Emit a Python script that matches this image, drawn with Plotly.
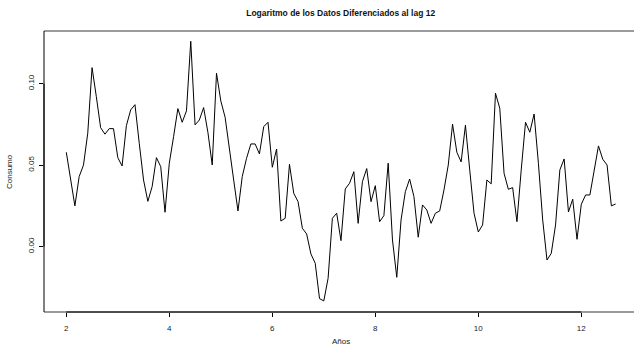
import numpy as np
import plotly.graph_objects as go

# Seasonally differenced (lag 12) log consumption, monthly from year 2
start_year = 2.0
freq = 12
consumo = [
    0.0579, 0.0410, 0.0250, 0.0430, 0.0500, 0.0696, 0.1098, 0.0920, 0.0730, 0.0690,
    0.0724, 0.0724, 0.0546, 0.0495, 0.0742, 0.0839, 0.0871, 0.0634, 0.0409, 0.0278,
    0.0368, 0.0546, 0.0491, 0.0211, 0.0512, 0.0675, 0.0847, 0.0763, 0.0833, 0.1260,
    0.0747, 0.0777, 0.0853, 0.0700, 0.0501, 0.1064, 0.0894, 0.0794, 0.0614, 0.0409,
    0.0219, 0.0430, 0.0542, 0.0630, 0.0630, 0.0569, 0.0736, 0.0763, 0.0487, 0.0599,
    0.0157, 0.0174, 0.0505, 0.0327, 0.0276, 0.0113, 0.0078, -0.0045, -0.0102, -0.0319,
    -0.0333, -0.0194, 0.0174, 0.0205, 0.0037, 0.0354, 0.0389, 0.0460, 0.0143, 0.0399,
    0.0479, 0.0276, 0.0374, 0.0153, 0.0190, 0.0512, 0.0041, -0.0188, 0.0164, 0.0337,
    0.0415, 0.0307, 0.0058, 0.0256, 0.0225, 0.0143, 0.0205, 0.0219, 0.0348, 0.0501,
    0.0751, 0.0579, 0.0520, 0.0745, 0.0471, 0.0205, 0.0090, 0.0133, 0.0409, 0.0385,
    0.0941, 0.0849, 0.0450, 0.0352, 0.0362, 0.0153, 0.0471, 0.0763, 0.0702, 0.0814,
    0.0512, 0.0164, -0.0082, -0.0041, 0.0133, 0.0471, 0.0538, 0.0213, 0.0291, 0.0045,
    0.0260, 0.0317, 0.0317, 0.0466, 0.0618, 0.0536, 0.0501, 0.0250, 0.0262,
]
anios = start_year + np.arange(len(consumo)) / freq

x_ticks = [2, 4, 6, 8, 10, 12]
y_ticks = [0.00, 0.05, 0.10]
y_tick_labels = ["0.00", "0.05", "0.10"]

FONT = "Liberation Sans, Arial, Helvetica, sans-serif"

fig = go.Figure()
fig.add_trace(go.Scatter(
    x=anios, y=consumo, mode="lines",
    line=dict(color="black", width=1),
    hoverinfo="skip", showlegend=False,
))

fig.update_layout(
    width=634, height=348,
    margin=dict(l=44, r=0, t=31, b=36),
    paper_bgcolor="white", plot_bgcolor="white",
    font=dict(family=FONT, size=8, color="#222222"),
    title=dict(
        text="<b>Logaritmo de los Datos Diferenciados al lag 12</b>",
        x=340.7 / 634, xref="container", xanchor="center",
        y=1 - 13 / 348, yref="container", yanchor="middle",
        font=dict(family=FONT, size=8.5, color="#111111"),
    ),
    xaxis=dict(
        range=[1.567, 13.023], showgrid=False, zeroline=False, showline=False,
        tickmode="array", tickvals=x_ticks, ticktext=[str(t) for t in x_ticks],
        ticks="outside", ticklen=4, tickwidth=1, tickcolor="black",
        ticklabelstandoff=4,
    ),
    yaxis=dict(
        range=[-0.0401, 0.1323], showgrid=False, zeroline=False, showline=False,
        tickmode="array", tickvals=y_ticks, ticktext=y_tick_labels,
        ticks="outside", ticklen=4, tickwidth=1, tickcolor="black",
        tickangle=-90, ticklabelstandoff=2,
    ),
    shapes=[
        # plot frame (top, bottom, left)
        dict(type="line", xref="paper", yref="paper", x0=0, x1=1, y0=1, y1=1,
             line=dict(color="#7a7a7a", width=1.5)),
        dict(type="line", xref="paper", yref="paper", x0=0, x1=1, y0=0, y1=0,
             line=dict(color="#7a7a7a", width=1.5)),
        dict(type="line", xref="paper", yref="paper", x0=0, x1=0, y0=0, y1=1,
             line=dict(color="black", width=1)),
        # axis lines spanning the tick range
        dict(type="line", xref="x", yref="paper", x0=min(x_ticks), x1=max(x_ticks),
             y0=0, y1=0, line=dict(color="black", width=1)),
        dict(type="line", xref="paper", yref="y", x0=0, x1=0,
             y0=min(y_ticks), y1=max(y_ticks), line=dict(color="black", width=1)),
    ],
    annotations=[
        dict(text="Años", xref="paper", yref="paper",
             x=(340.7 - 44) / 590, y=(312 - 341.5) / 281,
             showarrow=False, xanchor="center", yanchor="middle",
             font=dict(family=FONT, size=8, color="#222222")),
        dict(text="Consumo", xref="paper", yref="paper",
             x=(9.5 - 44) / 590, y=0.5, textangle=-90,
             showarrow=False, xanchor="center", yanchor="middle",
             font=dict(family=FONT, size=8, color="#222222")),
    ],
)

fig.write_html("out.html")
